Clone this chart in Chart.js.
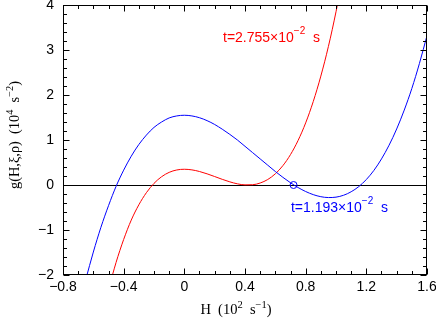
<!DOCTYPE html>
<html>
<head>
<meta charset="utf-8">
<script src="https://cdn.jsdelivr.net/npm/chart.js@4.4.1/dist/chart.umd.min.js"></script>
<style>
  html, body { margin: 0; padding: 0; background: #fff; }
  canvas { display: block; }
</style>
</head>
<body>
<canvas id="gChart" width="436" height="319"></canvas>
<script>
// values (H in 10^2 s^-1, g in 10^4 s^-2)
var Blue_H = [-0.65, -0.6, -0.55, -0.5, -0.45, -0.4, -0.35, -0.3, -0.25, -0.2, -0.15, -0.1, -0.05, 0,
  0.05, 0.1, 0.15, 0.2, 0.25, 0.3, 0.35, 0.4, 0.45, 0.5, 0.55, 0.6, 0.65, 0.7, 0.75, 0.8, 0.85,
  0.9, 0.95, 1.0, 1.05, 1.1, 1.15, 1.2, 1.25, 1.3, 1.35, 1.4, 1.45, 1.5, 1.55, 1.6]
var Blue_G = [-2.1, -1.49, -0.94, -0.46, -0.03, 0.33, 0.64, 0.9, 1.11, 1.28, 1.4, 1.49, 1.535, 1.55,
  1.535, 1.495, 1.43, 1.345, 1.24, 1.125, 1.0, 0.86, 0.72, 0.58, 0.44, 0.3, 0.17, 0.05, -0.056, -0.145, -0.214,
  -0.26, -0.279, -0.27, -0.228, -0.15, -0.036, 0.122, 0.325, 0.58, 0.885, 1.245, 1.665, 2.145, 2.7, 3.32]
var Red_H = [-0.5, -0.45, -0.4, -0.35, -0.3, -0.25, -0.2, -0.15, -0.1, -0.05, 0,
  0.05, 0.1, 0.15, 0.2, 0.25, 0.3, 0.35, 0.4, 0.45, 0.5, 0.55, 0.6, 0.65, 0.7, 0.75,
  0.8, 0.85, 0.9, 0.95, 1.0, 1.05]
var Red_G = [-2.32, -1.72, -1.21, -0.78, -0.44, -0.17, 0.036, 0.184, 0.281, 0.334, 0.35,
  0.336, 0.3, 0.248, 0.188, 0.126, 0.07, 0.026, 0.003, 0.006, 0.044, 0.122, 0.249, 0.431, 0.676, 0.99,
  1.38, 1.855, 2.42, 3.08, 3.85, 4.73]
var Marker_H = [0.72]
var Marker_G = [0]

var X_Min = -0.8, X_Max = 1.6, X_Major = 0.4, X_Minor = 0.1
var Y_Min = -2, Y_Max = 4, Y_Major = 1, Y_Minor = 0.2

// text pieces: [string, isSuperscript]
var Curve_Labels = [
  { H: 0.255, G: 3.27, color: "#ff0000", parts: [["t=2.755×10", 0], ["−2", 1], ["  s", 0]] },
  { H: 0.703, G: -0.51, color: "#0000ff", parts: [["t=1.193×10", 0], ["−2", 1], ["  s", 0]] }
]
var X_Title = [["H  (10", 0], ["2", 1], ["  s", 0], ["−1", 1], [")", 0]]
var Y_Title = [["g(H,ξ,ρ)  (10", 0], ["4", 1], ["  s", 0], ["−2", 1], [")", 0]]

function To_Points(xs, ys){
  var pts = []
  for (var i = 0; i < xs.length; i++){
    pts.push({ x: xs[i], y: ys[i] })
  }
  return pts
}

function Fmt_Tick(v){
  var r = Math.round(v * 10) / 10
  if (r == 0) return "0"
  return String(r).replace("-", "\u2212")
}

var Sans = "'Liberation Sans', Arial, sans-serif"
var Serif = "'Liberation Serif', 'Times New Roman', serif"

function Parts_Width(c, parts, family, size, supSize){
  var w = 0
  for (var i = 0; i < parts.length; i++){
    c.font = (parts[i][1] ? supSize : size) + "px " + family
    w += c.measureText(parts[i][0]).width
  }
  return w
}

// draws text starting at x (left), vertical middle at y, in current transform
function Draw_Parts(c, parts, x, y, family, size, supSize, rise){
  c.textBaseline = "middle"
  c.textAlign = "left"
  for (var i = 0; i < parts.length; i++){
    var sup = parts[i][1]
    c.font = (sup ? supSize : size) + "px " + family
    c.fillText(parts[i][0], x, sup ? y - rise : y)
    x += c.measureText(parts[i][0]).width
  }
}

// title centred on (cx, cy), font shrunk if wider than maxW
function Draw_Title(c, parts, cx, cy, angle, maxW){
  var size = 14.5, sup = 10.5
  var w = Parts_Width(c, parts, Serif, size, sup)
  if (w > maxW){
    size = size * maxW / w
    sup = sup * maxW / w
    w = maxW
  }
  c.save()
  c.translate(cx, cy)
  c.rotate(angle)
  Draw_Parts(c, parts, -w / 2, 0, Serif, size, sup, size * 0.35)
  c.restore()
}

var Frame_Plugin = {
  id: "frame",
  afterDatasetsDraw: function(chart){
    var c = chart.ctx, a = chart.chartArea
    var xs = chart.scales.x, ys = chart.scales.y
    var L = Math.round(a.left) + 0.5, R = Math.round(a.right) - 0.5
    var T = Math.round(a.top) + 0.5, B = Math.round(a.bottom) - 0.5
    c.save()
    c.strokeStyle = "#000"
    c.lineWidth = 1
    c.strokeRect(L, T, R - L, B - T)
    c.beginPath()
    var n = Math.round((X_Max - X_Min) / X_Minor)
    for (var k = 0; k <= n; k++){
      var v = X_Min + k * X_Minor
      var len = (k % Math.round(X_Major / X_Minor) == 0) ? 6 : 3.5
      var px = Math.round(xs.getPixelForValue(v)) + 0.5
      c.moveTo(px, B); c.lineTo(px, B - len)
      c.moveTo(px, T); c.lineTo(px, T + len)
    }
    n = Math.round((Y_Max - Y_Min) / Y_Minor)
    for (var k = 0; k <= n; k++){
      var v = Y_Min + k * Y_Minor
      var len = (k % Math.round(Y_Major / Y_Minor) == 0) ? 6 : 3.5
      var py = Math.round(ys.getPixelForValue(v)) + 0.5
      c.moveTo(L, py); c.lineTo(L + len, py)
      c.moveTo(R, py); c.lineTo(R - len, py)
    }
    c.stroke()

    // curve labels
    for (var i = 0; i < Curve_Labels.length; i++){
      var lb = Curve_Labels[i]
      c.fillStyle = lb.color
      Draw_Parts(c, lb.parts, xs.getPixelForValue(lb.H), ys.getPixelForValue(lb.G), Sans, 14, 10, 7)
    }

    // axis titles
    c.fillStyle = "#000"
    Draw_Title(c, X_Title, 236, 310, 0, 74)
    Draw_Title(c, Y_Title, 15, 135, -Math.PI / 2, 108)
    c.restore()
  }
}

function Fix_Axis(size){
  return function(s){
    if (s.isHorizontal()) s.height = size
    else s.width = size
    s.paddingTop = 0
    s.paddingBottom = 0
    s.paddingLeft = 0
    s.paddingRight = 0
  }
}

var ctx = document.getElementById("gChart").getContext("2d")
var G_Chart = new Chart(ctx, {
  type: "scatter",
  data: {
    datasets: [
      {
        data: To_Points(Blue_H, Blue_G),
        showLine: true,
        borderColor: "#0000ff",
        borderWidth: 1,
        pointRadius: 0,
        cubicInterpolationMode: "monotone"
      },
      {
        data: To_Points(Red_H, Red_G),
        showLine: true,
        borderColor: "#ff0000",
        borderWidth: 1,
        pointRadius: 0,
        cubicInterpolationMode: "monotone"
      },
      {
        data: To_Points(Marker_H, Marker_G),
        showLine: false,
        pointRadius: 3.5,
        pointStyle: "circle",
        borderColor: "#0000ff",
        backgroundColor: "rgba(0,0,0,0)",
        borderWidth: 1
      }
    ]
  },
  options: {
    responsive: false,
    animation: false,
    events: [],
    layout: { padding: { top: 5, right: 9, left: 0, bottom: 0 } },
    plugins: {
      legend: { display: false },
      tooltip: { enabled: false }
    },
    scales: {
      x: {
        type: "linear",
        min: X_Min,
        max: X_Max,
        afterFit: Fix_Axis(44),
        border: { display: false },
        grid: {
          drawTicks: false,
          lineWidth: 1,
          color: function(c){ return (c.tick && c.tick.value == 0) ? "#000" : "rgba(0,0,0,0)" }
        },
        ticks: {
          stepSize: X_Major,
          padding: 4,
          color: "#000",
          maxRotation: 0,
          font: { family: Sans, size: 14 },
          callback: function(v){ return Fmt_Tick(v) }
        }
      },
      y: {
        type: "linear",
        min: Y_Min,
        max: Y_Max,
        afterFit: Fix_Axis(63),
        border: { display: false },
        grid: {
          drawTicks: false,
          lineWidth: 1,
          color: function(c){ return (c.tick && c.tick.value == 0) ? "#000" : "rgba(0,0,0,0)" }
        },
        ticks: {
          stepSize: Y_Major,
          padding: 9,
          color: "#000",
          font: { family: Sans, size: 14 },
          callback: function(v){ return Fmt_Tick(v) }
        }
      }
    }
  },
  plugins: [Frame_Plugin]
})
</script>
</body>
</html>
